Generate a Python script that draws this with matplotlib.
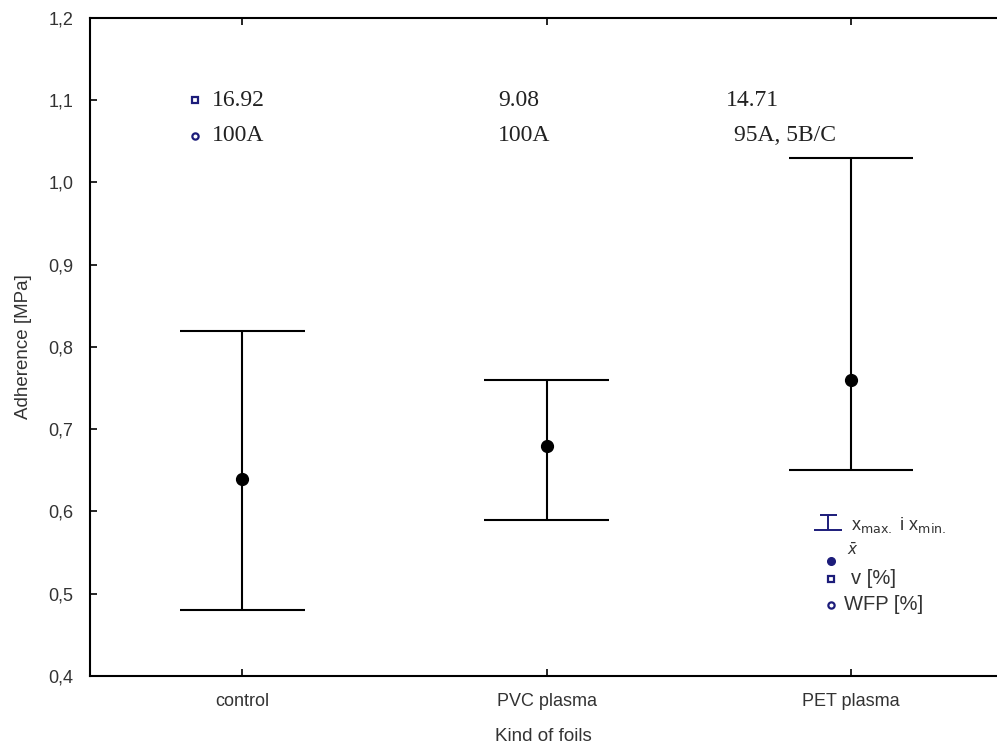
import matplotlib
matplotlib.use("Agg")
import matplotlib.pyplot as plt
from matplotlib.ticker import FuncFormatter

# data
foils = ["control", "PVC plasma", "PET plasma"]
x_max = [0.82, 0.76, 1.03]
x_min = [0.48, 0.59, 0.65]
x_mean = [0.64, 0.68, 0.76]
v_pct = ["16.92", "9.08", "14.71"]
wfp_pct = ["100A", "100A", "95A, 5B/C"]
y_ticks = [0.4, 0.5, 0.6, 0.7, 0.8, 0.9, 1.0, 1.1, 1.2]

navy = "#1c1c7a"
grey = "#333333"
sans = ["Liberation Sans", "DejaVu Sans"]
serif = ["Liberation Serif", "DejaVu Serif"]

fig = plt.figure(figsize=(9.97, 7.49), dpi=100)
ax = fig.add_axes([0.0903, 0.0975, 0.9097, 0.8785])

pos = list(range(1, len(foils) + 1))
cap = 0.205
ax.vlines(pos, x_min, x_max, color="black", lw=1.5)
ax.hlines(x_max, [p - cap for p in pos], [p + cap for p in pos], color="black", lw=1.5)
ax.hlines(x_min, [p - cap for p in pos], [p + cap for p in pos], color="black", lw=1.5)
ax.plot(pos, x_mean, "o", color="black", ms=8.5)

# annotations: v [%] and WFP [%]
text_dx = [-0.10, -0.16, -0.41]
wfp_dx = [-0.10, -0.16, -0.385]
for i, p in enumerate(pos):
    ax.text(p + text_dx[i], 1.1, v_pct[i], family=serif, fontsize=17,
            color="#222222", va="center", ha="left")
    ax.text(p + wfp_dx[i], 1.057, wfp_pct[i], family=serif, fontsize=17,
            color="#222222", va="center", ha="left")
ax.plot(pos[0] - 0.155, 1.1, "s", ms=4.5, mfc="white", mec=navy, mew=1.6)
ax.plot(pos[0] - 0.155, 1.057, "o", ms=4.5, mfc="white", mec=navy, mew=1.6)

# legend block, drawn by hand like the original
lx = 2.925
ax.vlines(lx, 0.578, 0.596, color=navy, lw=1.4)
ax.hlines(0.596, lx - 0.028, lx + 0.028, color=navy, lw=1.4)
ax.hlines(0.578, lx - 0.045, lx + 0.045, color=navy, lw=1.4)
ax.text(3.0, 0.583, r"x$_{\rm max.}$ i x$_{\rm min.}$", family=sans,
        fontsize=13, color=grey, va="center")
ax.plot(lx + 0.01, 0.540, "o", color=navy, ms=5.5)
ax.text(3.005, 0.553, r"$\bar{x}$", fontsize=11, color=grey, va="center", ha="center")
ax.plot(lx + 0.01, 0.518, "s", ms=4.5, mfc="white", mec=navy, mew=1.6)
ax.text(3.0, 0.519, "v [%]", family=sans, fontsize=14.5, color=grey, va="center")
ax.plot(lx + 0.01, 0.486, "o", ms=4.5, mfc="white", mec=navy, mew=1.6)
ax.text(2.977, 0.487, "WFP [%]", family=sans, fontsize=14.5, color=grey, va="center")

ax.set_xlim(0.5, 3.48)
ax.set_ylim(0.4, 1.2)
ax.set_xticks(pos)
ax.set_xticklabels(foils, family=sans, fontsize=13, color=grey)
ax.set_yticks(y_ticks)
ax.yaxis.set_major_formatter(FuncFormatter(lambda v, _: f"{v:.1f}".replace(".", ",")))
for lab in ax.get_yticklabels():
    lab.set_family(sans)
ax.tick_params(axis="y", direction="in", length=5, width=1.2, labelsize=13,
               labelcolor=grey, pad=12)
ax.tick_params(axis="x", direction="in", length=5, width=1.2, top=True, pad=12)
ax.spines["right"].set_visible(False)
for s in ["left", "top", "bottom"]:
    ax.spines[s].set_linewidth(1.5)

ax.set_ylabel("Adherence [MPa]", family=sans, fontsize=13.5, color=grey, labelpad=12)
ax.set_xlabel("Kind of foils", family=sans, fontsize=13.5, color=grey, labelpad=13)

fig.savefig("out.png", dpi=100)
